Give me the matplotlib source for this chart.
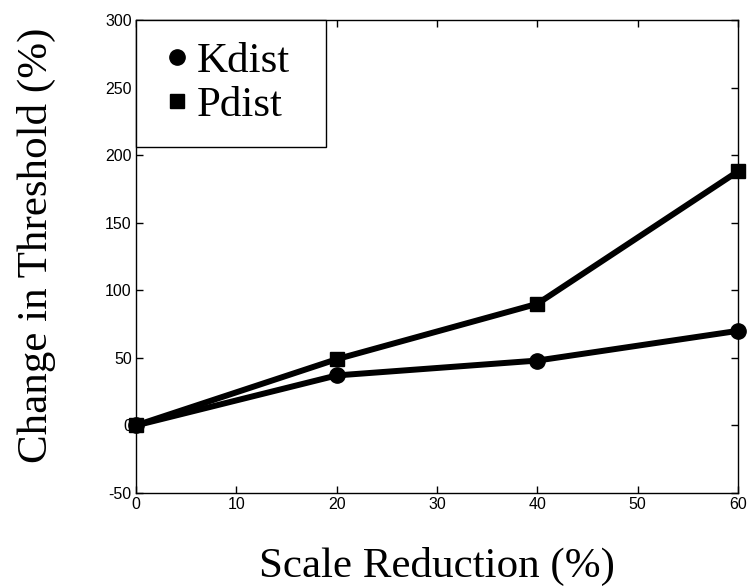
import matplotlib.pyplot as plt
from matplotlib.lines import Line2D

scale_reduction = [0, 20, 40, 60]
kdist = [0, 37, 48, 70]
pdist = [0, 49, 90, 188]

serif = ["Liberation Serif", "DejaVu Serif"]
sans = ["Liberation Sans", "DejaVu Sans"]

plt.rcParams["axes.unicode_minus"] = False

fig = plt.figure(figsize=(7.47, 5.87), dpi=100)
ax = fig.add_axes([136 / 747, 1 - 493 / 587, (738 - 136) / 747, (493 - 20) / 587])

ax.plot(scale_reduction, kdist, color="black", linewidth=4.3,
        marker="o", markersize=11, clip_on=False)
ax.plot(scale_reduction, pdist, color="black", linewidth=4.3,
        marker="s", markersize=10, clip_on=False)

ax.set_xlim(0, 60)
ax.set_ylim(-50, 300)
ax.set_xticks(range(0, 61, 10))
ax.set_yticks(range(-50, 301, 50))
ax.tick_params(direction="in", top=True, right=True, length=5, width=1,
               labelsize=11.5, pad=3)
for lab in ax.get_xticklabels() + ax.get_yticklabels():
    lab.set_family(sans)
for s in ax.spines.values():
    s.set_linewidth(1)

ax.set_xlabel("Scale Reduction (%)", fontsize=31, family=serif, labelpad=25)
ax.set_ylabel("Change in Threshold (%)", fontsize=31, family=serif)
ax.yaxis.set_label_coords(-0.133, 0.523)

handles = [
    Line2D([], [], color="black", linestyle="none", marker="o", markersize=11),
    Line2D([], [], color="black", linestyle="none", marker="s", markersize=10),
]
leg = ax.legend(handles, ["Kdist", "Pdist"], loc="upper left",
                bbox_to_anchor=(0, 0, 190 / 602, 1), mode="expand",
                borderaxespad=0, fancybox=False, edgecolor="black",
                framealpha=1, prop={"family": serif, "size": 31},
                handlelength=0.9, handletextpad=0.0, labelspacing=0.12,
                borderpad=0.5)
leg.get_frame().set_linewidth(1)

fig.savefig("out.png", dpi=100)
